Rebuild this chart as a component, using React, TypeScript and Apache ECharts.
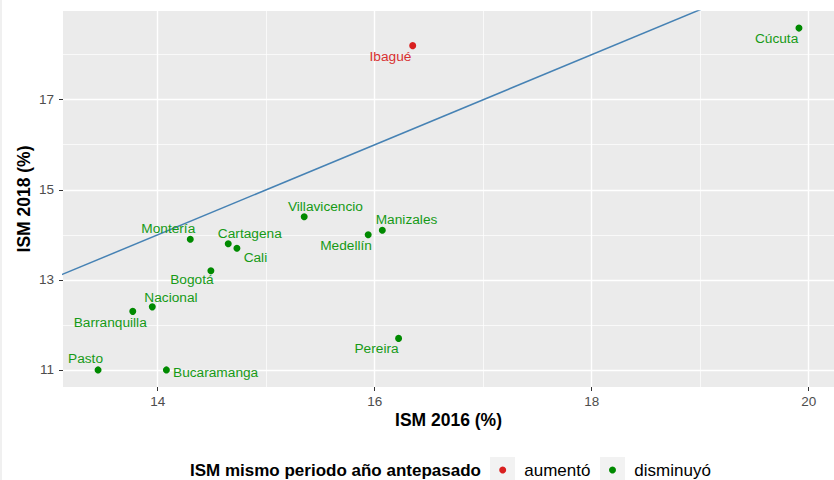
import React, { useEffect, useRef } from "react";
import * as echarts from "echarts";

// ---- Data ----
const cities = [
  "Ibagué", "Cúcuta", "Villavicencio", "Manizales", "Medellín", "Montería", "Cartagena",
  "Cali", "Bogotá", "Nacional", "Barranquilla", "Pasto", "Bucaramanga", "Pereira",
];
const ism2016 = [16.35, 19.91, 15.35, 16.07, 15.94, 14.3, 14.65, 14.73, 14.49, 13.95, 13.77, 13.45, 14.08, 16.22];
const ism2018 = [18.2, 18.59, 14.4, 14.1, 14.0, 13.9, 13.8, 13.7, 13.2, 12.4, 12.3, 11.0, 11.0, 11.7];
const xTicks = [14, 16, 18, 20];
const xMinor = [13, 15, 17, 19];
const yTicks = [11, 13, 15, 17];
const yMinor = [12, 14, 16, 18];
const statusNames = ["aumentó", "disminuyó"];

// ---- Label placement (layout only) ----
const labelPlacement: Record<string, [number, number, string]> = {
  "Ibagué": [-1.3, 11.3, "right"],
  "Cúcuta": [-0.7, 10.7, "right"],
  "Villavicencio": [-16.3, -10, "left"],
  "Manizales": [-6.6, -10.7, "left"],
  "Medellín": [3.7, 11, "right"],
  "Montería": [5, -10.7, "right"],
  "Cartagena": [-10.4, -10.3, "left"],
  "Cali": [6.7, 9, "left"],
  "Bogotá": [2.7, 9, "right"],
  "Nacional": [-8, -9, "left"],
  "Barranquilla": [14, 11, "right"],
  "Pasto": [5, -11, "right"],
  "Bucaramanga": [6.6, 2.3, "left"],
  "Pereira": [0, 10.3, "right"],
};

const FONT = "'Liberation Sans', Arial, Helvetica, sans-serif";
const RED_PT = "#d92020";
const RED_TX = "#d83030";
const GREEN_PT = "#008a00";
const GREEN_TX = "#169a16";

export default function App() {
  const ref = useRef<HTMLDivElement>(null);
  useEffect(() => {
    document.body.style.margin = "0";
    const chart = echarts.init(ref.current!, null, { renderer: "svg" });

    const xMinData = Math.min(...ism2016), xMaxData = Math.max(...ism2016);
    const yMinData = Math.min(...ism2018), yMaxData = Math.max(...ism2018);
    const xPad = (xMaxData - xMinData) * 0.05;
    const yPad = (yMaxData - yMinData) * 0.05;
    const xMin = xMinData - xPad, xMax = xMaxData + xPad;
    const yMin = yMinData - yPad, yMax = yMaxData + yPad;

    const mkPoint = (i: number, color: string) => {
      const p = labelPlacement[cities[i]] || [0, -10, "center"];
      return {
        name: cities[i],
        value: [ism2016[i], ism2018[i]],
        label: {
          show: true,
          position: "inside",
          offset: [p[0], p[1]],
          align: p[2],
          verticalAlign: "middle",
          formatter: "{b}",
          color,
          fontSize: 13.7,
          fontFamily: FONT,
        },
      };
    };
    const upData: any[] = [];
    const downData: any[] = [];
    cities.forEach((_, i) => {
      if (ism2018[i] > ism2016[i]) upData.push(mkPoint(i, RED_TX));
      else downData.push(mkPoint(i, GREEN_TX));
    });

    const gridLines = [
      ...xTicks.map((v) => ({ xAxis: v, lineStyle: { color: "#ffffff", width: 1.4, type: "solid" } })),
      ...xMinor.map((v) => ({ xAxis: v, lineStyle: { color: "#ffffff", width: 0.7, type: "solid" } })),
      ...yTicks.map((v) => ({ yAxis: v, lineStyle: { color: "#ffffff", width: 1.4, type: "solid" } })),
      ...yMinor.map((v) => ({ yAxis: v, lineStyle: { color: "#ffffff", width: 0.7, type: "solid" } })),
    ];

    const lineLo = Math.min(xMin, yMin);
    const lineHi = Math.max(xMax, yMax);

    const legendY = 470;
    const option: any = {
      animation: false,
      textStyle: { fontFamily: FONT },
      grid: {
        left: 63,
        top: 11,
        width: 774,
        height: 376,
        show: true,
        backgroundColor: "#ebebeb",
        borderWidth: 0,
      },
      xAxis: {
        type: "value",
        min: xMin,
        max: xMax,
        name: "ISM 2016 (%)",
        nameLocation: "middle",
        nameGap: 24,
        nameMoveOverlap: false,
        nameTextStyle: { fontSize: 17.5, fontWeight: "bold", color: "#000000", fontFamily: FONT },
        axisLine: { show: false },
        axisTick: { show: true, customValues: xTicks, length: 4, lineStyle: { color: "#333333", width: 1 } },
        axisLabel: { customValues: xTicks, color: "#4d4d4d", fontSize: 13.5, margin: 7, fontFamily: FONT },
        splitLine: { show: false },
      },
      yAxis: {
        type: "value",
        min: yMin,
        max: yMax,
        name: "ISM 2018 (%)",
        nameLocation: "middle",
        nameGap: 30,
        nameMoveOverlap: false,
        nameTextStyle: { fontSize: 17.5, fontWeight: "bold", color: "#000000", fontFamily: FONT },
        axisLine: { show: false },
        axisTick: { show: true, customValues: yTicks, length: 4, lineStyle: { color: "#333333", width: 1 } },
        axisLabel: { customValues: yTicks, color: "#4d4d4d", fontSize: 13.5, margin: 9, fontFamily: FONT },
        splitLine: { show: false },
      },
      series: [
        {
          type: "line",
          name: "grid",
          data: [],
          z: 0,
          silent: true,
          markLine: {
            z: 0,
            silent: true,
            symbol: ["none", "none"],
            label: { show: false },
            emphasis: { disabled: true },
            data: gridLines,
          },
        },
        {
          type: "line",
          name: "y = x",
          data: [[lineLo, lineLo], [lineHi, lineHi]],
          symbol: "none",
          z: 2,
          silent: true,
          clip: true,
          lineStyle: { color: "#4682b4", width: 1.5 },
        },
        {
          type: "scatter",
          name: statusNames[0],
          data: upData,
          symbol: "circle",
          symbolSize: 7,
          z: 3,
          itemStyle: { color: RED_PT, opacity: 1 },
        },
        {
          type: "scatter",
          name: statusNames[1],
          data: downData,
          symbol: "circle",
          symbolSize: 7,
          z: 3,
          itemStyle: { color: GREEN_PT, opacity: 1 },
        },
      ],
      graphic: [
        { type: "rect", shape: { x: 0, y: 0, width: 2, height: 480 }, style: { fill: "#f0f0f0" }, silent: true },
        {
          type: "text",
          x: 190,
          y: legendY,
          style: {
            text: "ISM mismo periodo año antepasado",
            font: `bold 17px ${FONT}`,
            fill: "#000000",
            verticalAlign: "middle",
            align: "left",
          },
        },
        { type: "rect", shape: { x: 490, y: 457, width: 25, height: 25 }, style: { fill: "#f2f2f2" } },
        { type: "circle", shape: { cx: 502.7, cy: legendY, r: 3.5 }, style: { fill: RED_PT } },
        {
          type: "text",
          x: 524.3,
          y: legendY,
          style: { text: statusNames[0], font: `17px ${FONT}`, fill: "#000000", verticalAlign: "middle", align: "left" },
        },
        { type: "rect", shape: { x: 600, y: 457, width: 25, height: 25 }, style: { fill: "#f2f2f2" } },
        { type: "circle", shape: { cx: 612.5, cy: legendY, r: 3.5 }, style: { fill: GREEN_PT } },
        {
          type: "text",
          x: 634.3,
          y: legendY,
          style: { text: statusNames[1], font: `17px ${FONT}`, fill: "#000000", verticalAlign: "middle", align: "left" },
        },
      ],
    };
    chart.setOption(option);
    return () => chart.dispose();
  }, []);
  return (
    <div
      ref={ref}
      style={{ position: "fixed", left: 0, top: 0, width: 834, height: 480, background: "#ffffff" }}
    />
  );
}
